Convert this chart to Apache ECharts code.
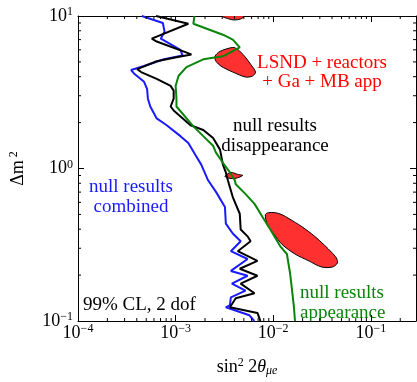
<!DOCTYPE html>
<html>
<head>
<meta charset="utf-8">
<script src="https://cdn.jsdelivr.net/npm/echarts@6/dist/echarts.min.js"></script>
<style>
  html, body { margin: 0; padding: 0; background: #fff; }
  #chart { width: 417px; height: 382px; }
</style>
</head>
<body>
<div id="chart"></div>
<script>
// axis ranges
const xMin = 1e-4, xMax = 0.29;
const yMin = 0.1, yMax = 10;

// null results combined (blue)
const combinedCurve = [
  [4.5e-4, 10], [7.4e-4, 9.0], [7.7e-4, 7.9], [7.05e-4, 7.1], [1.12e-3, 6.0], [1.18e-3, 5.5],
  [7.6e-4, 5.2], [4.75e-4, 4.7], [3.5e-4, 4.42], [3.8e-4, 4.16], [4.75e-4, 3.7], [5.1e-4, 3.33],
  [5.2e-4, 2.87], [5.5e-4, 2.55], [6.4e-4, 2.13], [8.1e-4, 1.92], [1.12e-3, 1.63], [1.35e-3, 1.47],
  [1.59e-3, 1.23], [1.83e-3, 1.06], [2.15e-3, 0.837], [2.6e-3, 0.70], [3.2e-3, 0.56], [3.27e-3, 0.435],
  [3.85e-3, 0.375], [4.64e-3, 0.333], [3.68e-3, 0.287], [5.46e-3, 0.255], [3.68e-3, 0.213],
  [5.46e-3, 0.198], [3.77e-3, 0.176], [5.2e-3, 0.158], [3.68e-3, 0.143], [3.6e-3, 0.127],
  [3.27e-3, 0.123], [5.7e-3, 0.109], [6.4e-3, 0.1]
];

// null results disappearance (black)
const disappCurve = [
  [6.3e-4, 10], [1.35e-3, 8.9], [5.7e-4, 7.1], [6.4e-4, 6.8], [1.45e-3, 5.6], [1.02e-3, 5.36],
  [6.4e-4, 5.05], [4.04e-4, 4.48], [4.43e-4, 4.29], [6.4e-4, 3.87], [8.9e-4, 3.48], [9.55e-4, 3.24],
  [9.55e-4, 2.87], [8.9e-4, 2.55], [9.55e-4, 2.40], [1.42e-3, 1.92], [1.92e-3, 1.79], [2.42e-3, 1.585],
  [2.85e-3, 1.33], [3.05e-3, 1.06], [3.27e-3, 0.942], [3.43e-3, 0.837], [3.85e-3, 0.65], [4.54e-3, 0.505],
  [4.64e-3, 0.398], [5.46e-3, 0.359], [5.86e-3, 0.333], [4.33e-3, 0.287], [6.89e-3, 0.248],
  [4.54e-3, 0.22], [6.89e-3, 0.198], [4.64e-3, 0.176], [6.43e-3, 0.152], [4.13e-3, 0.141],
  [3.6e-3, 0.123], [6.89e-3, 0.113], [7.39e-3, 0.1]
];

// null results appearance (green)
const appCurve = [
  [1.56e-3, 10], [1.52e-3, 8.9], [3.05e-3, 7.54], [3.85e-3, 7.0], [4.54e-3, 6.22], [3.05e-3, 5.44],
  [1.92e-3, 5.2], [1.29e-3, 4.62], [1.07e-3, 4.04], [1.0e-3, 3.48], [1.02e-3, 2.87], [1.02e-3, 2.55],
  [1.52e-3, 1.89], [1.92e-3, 1.63], [2.42e-3, 1.41], [2.59e-3, 1.27], [3.05e-3, 1.09], [3.6e-3, 0.942],
  [4.04e-3, 0.837], [4.13e-3, 0.788], [5.21e-3, 0.679], [6.43e-3, 0.586], [7.74e-3, 0.483],
  [9.33e-3, 0.398], [1.18e-2, 0.309], [1.38e-2, 0.275], [1.49e-2, 0.204], [1.56e-2, 0.158],
  [1.63e-2, 0.123], [1.67e-2, 0.1]
];

// LSND + reactors + Ga + MB app allowed regions (red)
const blobTop = [[2.92e-3, 10], [5.09e-3, 10], [4.64e-3, 9.56], [3.94e-3, 9.42], [3.27e-3, 9.71]];
const blobMid = [
  [2.53e-3, 5.44], [2.85e-3, 5.86], [3.85e-3, 6.22], [4.33e-3, 6.04], [5.09e-3, 5.44], [5.86e-3, 4.83],
  [6.58e-3, 4.29], [6.14e-3, 4.04], [5.21e-3, 3.98], [3.85e-3, 4.29], [2.92e-3, 4.69], [2.59e-3, 5.05]
];
const blobSmall = [[3.2e-3, 0.888], [3.68e-3, 0.942], [4.33e-3, 0.914], [4.86e-3, 0.901], [4.13e-3, 0.862], [3.6e-3, 0.862]];
const blobLow = [
  [8.3e-3, 0.498], [8.9e-3, 0.513], [1.05e-2, 0.513], [1.23e-2, 0.498], [1.45e-2, 0.469], [1.96e-2, 0.416],
  [2.66e-2, 0.359], [3.35e-2, 0.314], [3.94e-2, 0.283], [4.43e-2, 0.259], [4.54e-2, 0.240], [4.04e-2, 0.226],
  [3.13e-2, 0.226], [2.31e-2, 0.248], [1.67e-2, 0.275], [1.23e-2, 0.318], [1.02e-2, 0.370], [8.7e-3, 0.429]
];

// minor ticks 2..9 x 10^n
const xMinor = [], yMinor = [];
[1e-4, 1e-3, 1e-2, 1e-1].forEach(d => { for (let k = 2; k <= 9; k++) if (k * d < xMax) xMinor.push(k * d); });
[0.1, 1].forEach(d => { for (let k = 2; k <= 9; k++) yMinor.push(k * d); });

const blue = '#1a1aff';
const green = '#0a840a';
const red = '#ff0000';
const fontFamily = 'Liberation Serif';

const labelRich = {
  b: {fontFamily: fontFamily, fontSize: 18, color: '#000', lineHeight: 20},
  s: {fontFamily: fontFamily, fontSize: 12, color: '#000', lineHeight: 12, verticalAlign: 'top'}
};

function powLabel(value) {
  const e = Math.round(Math.log10(value));
  if (Math.abs(value - Math.pow(10, e)) / value > 1e-6) return '';
  return '{b|10}{s|' + (e < 0 ? '\u2212' + (-e) : e) + '}';
}

const chartInstance = echarts.init(document.getElementById('chart'));

function tickSeries(data, horizontal) {
  return {
    type: 'custom',
    silent: true,
    z: 5,
    data: data,
    renderItem: function (params, api) {
      if (horizontal) {
        const v = api.value(0);
        const b = api.coord([v, yMin]);
        const t = api.coord([v, yMax]);
        return {type: 'group', children: [
          {type: 'line', shape: {x1: b[0], y1: b[1], x2: b[0], y2: b[1] - 3}, style: {stroke: '#000', lineWidth: 1}},
          {type: 'line', shape: {x1: t[0], y1: t[1], x2: t[0], y2: t[1] + 3}, style: {stroke: '#000', lineWidth: 1}}
        ]};
      }
      const v = api.value(1);
      const l = api.coord([xMin, v]);
      const r = api.coord([xMax, v]);
      return {type: 'group', children: [
        {type: 'line', shape: {x1: l[0], y1: l[1], x2: l[0] + 3, y2: l[1]}, style: {stroke: '#000', lineWidth: 1}},
        {type: 'line', shape: {x1: r[0], y1: r[1], x2: r[0] - 3, y2: r[1]}, style: {stroke: '#000', lineWidth: 1}}
      ]};
    }
  };
}

function blobSeries(pts) {
  return {
    type: 'custom',
    silent: true,
    clip: true,
    z: 1,
    data: pts,
    renderItem: function (params, api) {
      if (params.dataIndex !== 0) return;
      const points = pts.map(p => api.coord(p));
      return {
        type: 'polygon',
        shape: {points: points, smooth: 0.3},
        style: {fill: '#ff3030', stroke: '#000', lineWidth: 1}
      };
    }
  };
}

function curveSeries(name, data, color) {
  return {
    name: name,
    type: 'line',
    data: data,
    showSymbol: false,
    z: 3,
    lineStyle: {color: color, width: 2},
    animation: false
  };
}

const axisCommon = {
  type: 'log',
  logBase: 10,
  axisLine: {onZero: false, lineStyle: {color: '#000', width: 1}},
  axisTick: {inside: true, length: 6, lineStyle: {color: '#000', width: 1}},
  splitLine: {show: false}
};

function text(str, x, y, color, align) {
  return {
    type: 'text',
    x: x, y: y,
    style: {
      text: str,
      fill: color,
      font: '19px "Liberation Serif"',
      textAlign: align || 'center',
      textVerticalAlign: 'middle'
    }
  };
}

const option = {
  animation: false,
  backgroundColor: '#fff',
  grid: {left: 73, top: 16, width: 343, height: 310},
  xAxis: [
    Object.assign({}, axisCommon, {
      min: xMin, max: xMax, position: 'bottom',
      axisLabel: {margin: 2, formatter: powLabel, rich: labelRich, showMaxLabel: false},
      name: '{a|sin}{s|2}{a| 2}{t|\u03b8}{u|\u03bce}',
      nameLocation: 'middle',
      nameGap: 36,
      nameTextStyle: {
        rich: {
          a: {fontFamily: fontFamily, fontSize: 18, color: '#000', lineHeight: 20},
          s: {fontFamily: fontFamily, fontSize: 12, color: '#000', lineHeight: 12, verticalAlign: 'top'},
          t: {fontFamily: fontFamily, fontSize: 18, color: '#000', fontStyle: 'italic', lineHeight: 20},
          u: {fontFamily: fontFamily, fontSize: 12, color: '#000', fontStyle: 'italic', lineHeight: 12, verticalAlign: 'bottom'}
        }
      }
    }),
    Object.assign({}, axisCommon, {
      min: xMin, max: xMax, position: 'top', axisLabel: {show: false}
    })
  ],
  yAxis: [
    Object.assign({}, axisCommon, {
      min: yMin, max: yMax, position: 'left',
      axisLabel: {margin: 5, formatter: powLabel, rich: labelRich},
      name: '{a|\u0394m}{s| 2}',
      nameLocation: 'middle',
      nameGap: 50,
      nameTextStyle: {
        rich: {
          a: {fontFamily: fontFamily, fontSize: 18, color: '#000', lineHeight: 20},
          s: {fontFamily: fontFamily, fontSize: 12, color: '#000', lineHeight: 12, verticalAlign: 'top'}
        }
      }
    }),
    Object.assign({}, axisCommon, {
      min: yMin, max: yMax, position: 'right', axisLabel: {show: false}
    })
  ],
  series: [
    blobSeries(blobTop),
    blobSeries(blobMid),
    blobSeries(blobSmall),
    blobSeries(blobLow),
    curveSeries('null results combined', combinedCurve, blue),
    curveSeries('null results disappearance', disappCurve, '#000'),
    curveSeries('null results appearance', appCurve, green),
    tickSeries(xMinor.map(v => [v, yMin]), true),
    tickSeries(yMinor.map(v => [xMin, v]), false)
  ],
  graphic: [
    text('LSND + reactors', 322, 63, red),
    text('+ Ga + MB app', 322, 82, red),
    text('null results', 275, 126, '#000'),
    text('disappearance', 275, 146, '#000'),
    text('null results', 131, 187, blue),
    text('combined', 131, 207, blue),
    text('null results', 300, 293, green, 'left'),
    text('appearance', 300, 313, green, 'left'),
    text('99% CL, 2 dof', 83, 305, '#000', 'left')
  ]
};

chartInstance.setOption(option);
</script>
</body>
</html>
